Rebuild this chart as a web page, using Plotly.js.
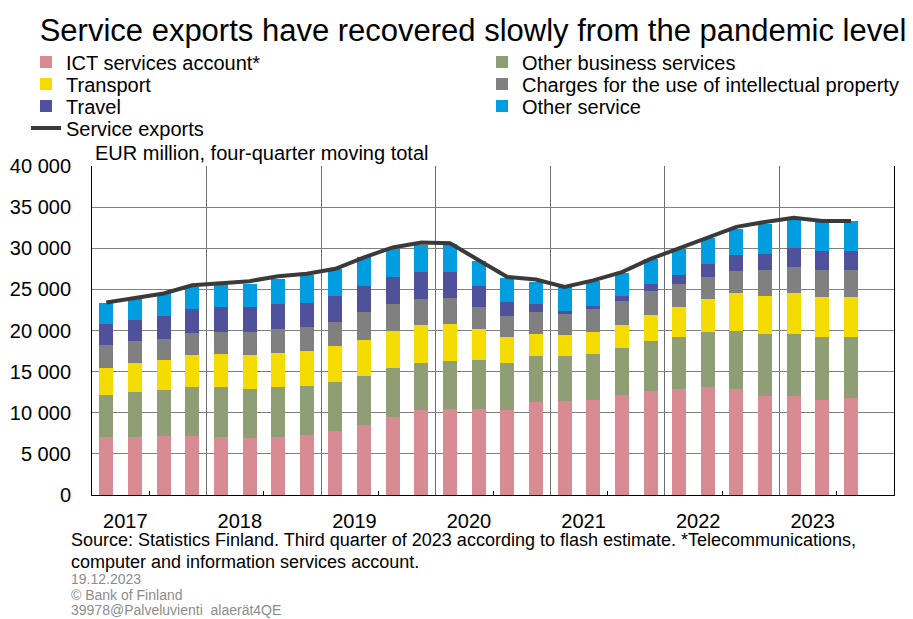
<!DOCTYPE html>
<html>
<head>
<meta charset="utf-8">
<script src="https://cdn.plot.ly/plotly-3.0.1.min.js"></script>
<style>
html,body{margin:0;padding:0;background:#fff;}
#chart{width:913px;height:619px;}
</style>
</head>
<body>
<div id="chart"></div>
<script>
// Quarters 2017Q1 .. 2023Q3 (index 0..26)
const quarters = ['2017Q1','2017Q2','2017Q3','2017Q4','2018Q1','2018Q2','2018Q3','2018Q4',
  '2019Q1','2019Q2','2019Q3','2019Q4','2020Q1','2020Q2','2020Q3','2020Q4',
  '2021Q1','2021Q2','2021Q3','2021Q4','2022Q1','2022Q2','2022Q3','2022Q4',
  '2023Q1','2023Q2','2023Q3'];
// EUR million, four-quarter moving total
const ict       = [7090,7090,7200,7130,7090,6920,7090,7290,7770,8500,9500,10300,10500,10500,10300,11250,11400,11600,12100,12600,12900,13100,12900,12060,12000,11600,11800];
const obs       = [5060,5410,5550,6030,6010,5950,6010,5950,6030,5950,5970,5800,5800,5900,5700,5710,5560,5600,5800,6100,6300,6660,7100,7540,7600,7550,7350];
const transport = [3350,3500,3650,3840,4000,4130,4200,4250,4300,4450,4430,4600,4500,3800,3150,2640,2440,2600,2800,3200,3600,4040,4500,4650,4900,4950,4950];
const charges   = [2700,2700,2550,2700,2700,2800,2900,2910,2900,3370,3300,3150,3100,2700,2650,2600,2600,2800,2900,2900,2800,2700,2750,3050,3200,3200,3200];
const travel    = [2600,2600,2850,2970,3000,3000,3000,3000,3200,3130,3300,3250,3200,2500,1700,1000,400,400,600,800,1200,1600,1950,2050,2300,2400,2400];
const other     = [2500,2500,2700,2630,2800,2900,3100,3300,3300,3500,3460,3300,3400,3100,2900,2700,2900,3000,2800,3100,3100,3200,3200,3550,3400,3500,3600];
const serviceExports = [23400,23900,24500,25500,25800,26000,26600,26900,27500,28900,30100,30700,30600,28500,26500,26200,25300,26100,27100,28700,30000,31300,32600,33200,33700,33300,33300];

const yearLabels = ['2017','2018','2019','2020','2021','2022','2023'];
const yTickVals = [0,5000,10000,15000,20000,25000,30000,35000,40000];
const yTickText = ['0','5 000','10 000','15 000','20 000','25 000','30 000','35 000','40 000'];

const xIdx = quarters.map((q,i)=>i);
const FONT = 'Liberation Sans, Arial, sans-serif';

function bar(name, vals, color, legend){
  return {type:'bar', name:name, x:xIdx, y:vals, legend:legend,
    marker:{color:color, line:{width:0}}, hoverinfo:'name+y'};
}
const traces = [
  bar('ICT services account*', ict, '#D88B93', 'legend'),
  bar('Other business services', obs, '#8F9E75', 'legend5'),
  bar('Transport', transport, '#F5DC00', 'legend2'),
  bar('Charges for the use of intellectual property', charges, '#808080', 'legend6'),
  bar('Travel', travel, '#4F529B', 'legend3'),
  bar('Other service', other, '#009EE0', 'legend7'),
  {type:'scatter', mode:'lines', name:'Service exports', x:xIdx, y:serviceExports,
    legend:'legend4', line:{color:'#3A3A3A', width:4}}
];

const yearTickPos = yearLabels.map((y,i)=>4*i+1.5);
const yearBounds = yearLabels.slice(1).map((y,i)=>4*(i+1)-0.5);

function leg(xl, yc){
  return {orientation:'h', xref:'container', yref:'container', x:xl/913, y:1-yc/619,
    xanchor:'left', yanchor:'middle',
    font:{family:FONT, size:20, color:'#000'}, bgcolor:'rgba(0,0,0,0)', traceorder:'normal',
    itemclick:false, itemdoubleclick:false};
}

const layout = {
  width:913, height:619,
  margin:{l:92, r:19, t:166, b:124, pad:0},
  paper_bgcolor:'#fff', plot_bgcolor:'#fff',
  font:{family:FONT, size:20, color:'#000'},
  barmode:'stack', bargap:0.51,
  showlegend:true,
  title:{text:'Service exports have recovered slowly from the pandemic level',
    font:{family:FONT, size:31, color:'#000'},
    xref:'container', yref:'container', x:473/913, xanchor:'center', y:1-30/619, yanchor:'middle'},
  legend: leg(26, 62),
  legend2: leg(26, 84),
  legend3: leg(26, 106),
  legend4: leg(26, 128),
  legend5: leg(482, 62),
  legend6: leg(482, 84),
  legend7: leg(482, 106),
  xaxis:{
    range:[-0.5, 27.5], fixedrange:true,
    tickmode:'array', tickvals:yearTickPos, ticktext:yearLabels,
    ticks:'inside', ticklen:4, tickwidth:1, tickcolor:'#000',
    ticklabelshift:-24, ticklabelstandoff:8,
    tickfont:{family:FONT, size:20, color:'#000'},
    showgrid:false, zeroline:false,
    showline:true, linecolor:'#000', linewidth:1,
    minor:{tickmode:'array', tickvals:yearBounds, showgrid:true, gridcolor:'#6e6e6e', gridwidth:1, ticks:''}
  },
  yaxis:{
    range:[0,40000], fixedrange:true,
    tickmode:'array', tickvals:yTickVals, ticktext:yTickText,
    ticks:'', ticklabelstandoff:16,
    tickfont:{family:FONT, size:20, color:'#000'},
    showgrid:true, gridcolor:'#808080', gridwidth:1, zeroline:false,
    showline:true, linecolor:'#000', linewidth:1, mirror:true
  },
  annotations:[
    {text:'EUR million, four-quarter moving total', xref:'paper', yref:'paper',
      x:1/802, y:1+(166-153)/329, xanchor:'left', yanchor:'middle', showarrow:false,
      font:{family:FONT, size:20, color:'#000'}},
    {text:'Source: Statistics Finland. Third quarter of 2023 according to flash estimate. *Telecommunications,',
      xref:'paper', yref:'paper', x:(69-92)/802, y:-(540-495)/329, xanchor:'left', yanchor:'middle',
      showarrow:false, font:{family:FONT, size:18, color:'#000'}},
    {text:'computer and information services account.',
      xref:'paper', yref:'paper', x:(69-92)/802, y:-(562-495)/329, xanchor:'left', yanchor:'middle',
      showarrow:false, font:{family:FONT, size:18, color:'#000'}},
    {text:'19.12.2023', xref:'paper', yref:'paper', x:(69-92)/802, y:-(579-495)/329,
      xanchor:'left', yanchor:'middle', showarrow:false, font:{family:FONT, size:14, color:'#8C8C8C'}},
    {text:'© Bank of Finland', xref:'paper', yref:'paper', x:(69-92)/802, y:-(595-495)/329,
      xanchor:'left', yanchor:'middle', showarrow:false, font:{family:FONT, size:14, color:'#8C8C8C'}},
    {text:'39978@Palveluvienti  alaerät4QE', xref:'paper', yref:'paper', x:(69-92)/802, y:-(610-495)/329,
      xanchor:'left', yanchor:'middle', showarrow:false, font:{family:FONT, size:14, color:'#8C8C8C'}}
  ]
};

Plotly.newPlot('chart', traces, layout, {displayModeBar:false, staticPlot:true});
</script>
</body>
</html>
